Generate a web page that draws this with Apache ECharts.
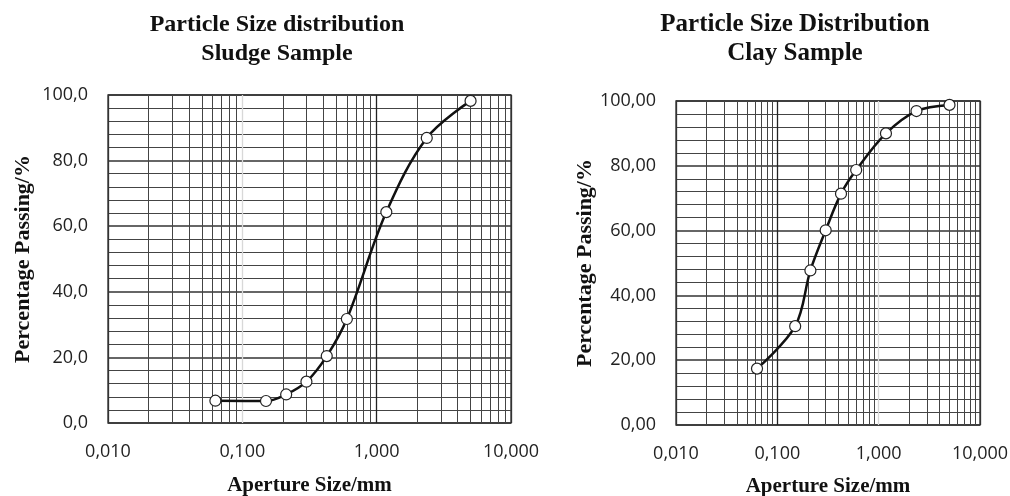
<!DOCTYPE html>
<html>
<head>
<meta charset="utf-8">
<script src="https://cdn.jsdelivr.net/npm/echarts@6/dist/echarts.min.js"></script>
<style>html,body{margin:0;padding:0;background:#fff;}#c{width:1010px;height:496px;}</style>
</head>
<body>
<div id="c"></div>
<script>
// Sieve aperture sizes (mm)
var sludgeSizes = [0.063, 0.15, 0.212, 0.3, 0.425, 0.6, 1.18, 2.36, 5.0];
var sludgePassing = [6.8, 6.7, 8.7, 12.6, 20.4, 31.7, 64.3, 86.9, 98.2];
var claySizes = [0.063, 0.15, 0.212, 0.3, 0.425, 0.6, 1.18, 2.36, 5.0];
var clayPassing = [17.4, 30.5, 47.7, 60.1, 71.4, 78.7, 90.0, 96.9, 98.8];
var xTicks = [0.01, 0.1, 1, 10];
var minorX = [];
[0.01, 0.1, 1].forEach(function (d) { for (var k = 2; k <= 9; k++) minorX.push(+(d * k).toFixed(4)); });

var serif = '"Liberation Serif", "DejaVu Serif", serif';
var sans = '"Open Sans", "Liberation Sans", sans-serif';

function fmt(v, n) { return v.toFixed(n).replace('.', ','); }

function xAxisCfg(gi, splitColors, gap) {
  return {
    type: 'log', logBase: 10, gridIndex: gi, min: 0.01, max: 10,
    name: 'Aperture Size/mm', nameLocation: 'middle', nameGap: gap,
    nameTextStyle: { fontFamily: serif, fontWeight: 'bold', fontSize: 21, color: '#111' },
    axisLine: { show: false }, axisTick: { show: false },
    axisLabel: { fontFamily: sans, fontSize: 18, color: '#222', margin: 20,
      formatter: function (v) { return fmt(v, 3); } },
    splitLine: { show: true, lineStyle: { color: splitColors, width: 1.3 } }
  };
}
function yAxisCfg(gi, dec, gap) {
  return {
    type: 'value', gridIndex: gi, min: 0, max: 100, interval: 20,
    name: 'Percentage Passing/%', nameLocation: 'middle', nameGap: gap,
    nameTextStyle: { fontFamily: serif, fontWeight: 'bold', fontSize: 22, color: '#111' },
    axisLine: { show: false }, axisTick: { show: false },
    axisLabel: { fontFamily: sans, fontSize: 18, color: '#222', margin: 20,
      formatter: function (v) { return fmt(v, dec); } },
    splitLine: { show: true, lineStyle: { color: '#333', width: 1.6 } },
    minorTick: { show: false, splitNumber: 5 },
    minorSplitLine: { show: true, lineStyle: { color: '#444', width: 1 } }
  };
}
function curve(xi, xs, ys) {
  return {
    type: 'line', xAxisIndex: xi, yAxisIndex: xi, smooth: 0.35,
    data: xs.map(function (x, i) { return [x, ys[i]]; }),
    symbol: 'circle', symbolSize: 11, z: 5,
    lineStyle: { color: '#111', width: 2.5 },
    itemStyle: { color: '#fff', borderColor: '#222', borderWidth: 1.2 },
    markLine: {
      silent: true, symbol: 'none', animation: false, z: 1,
      label: { show: false },
      lineStyle: { color: '#444', width: 1, type: 'solid' },
      data: minorX.map(function (v) { return { xAxis: v }; })
    }
  };
}

var chart = echarts.init(document.getElementById('c'));
chart.setOption({
  animation: false,
  backgroundColor: '#fff',
  title: [
    { text: 'Particle Size distribution\nSludge Sample', left: 272, top: 5, textAlign: 'center',
      textStyle: { fontFamily: serif, fontWeight: 'bold', fontSize: 24, lineHeight: 29, color: '#111' } },
    { text: 'Particle Size Distribution\nClay Sample', left: 790, top: 5, textAlign: 'center',
      textStyle: { fontFamily: serif, fontWeight: 'bold', fontSize: 25, lineHeight: 29, color: '#111' } }
  ],
  grid: [
    { left: 108, right: 499, top: 95, bottom: 73, show: true, borderColor: '#333', borderWidth: 1.3,
      containLabel: false, outerBoundsMode: 'none' },
    { left: 676, right: 30, top: 101, bottom: 71, show: true, borderColor: '#333', borderWidth: 1.3,
      containLabel: false, outerBoundsMode: 'none' }
  ],
  xAxis: [
    xAxisCfg(0, ['#333', '#d8d8d8', '#222', '#333'], 52),
    xAxisCfg(1, ['#333', '#222', '#d8d8d8', '#333'], 51)
  ],
  yAxis: [
    yAxisCfg(0, 1, 74),
    yAxisCfg(1, 2, 60)
  ],
  series: [
    curve(0, sludgeSizes, sludgePassing),
    curve(1, claySizes, clayPassing)
  ]
});
</script>
</body>
</html>
